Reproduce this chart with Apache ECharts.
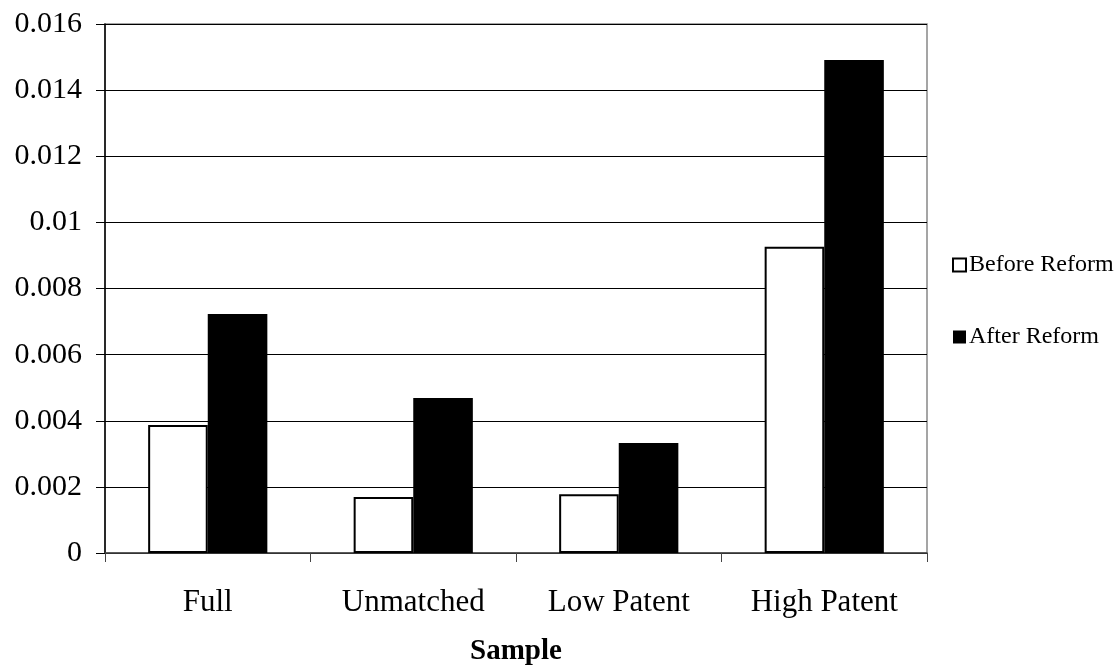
<!DOCTYPE html>
<html><head><meta charset="utf-8">
<script src="https://cdn.jsdelivr.net/npm/echarts@6/dist/echarts.min.js"></script>
<style>html,body{margin:0;padding:0;background:#fff}#c{width:1119px;height:668px}</style>
</head><body><div id="c"></div>
<script>
const categories = ['Full', 'Unmatched', 'Low Patent', 'High Patent'];
const beforeReform = [0.00387, 0.00169, 0.00178, 0.00926];
const afterReform = [0.00723, 0.00469, 0.00333, 0.01491];
const yTicks = [0, 0.002, 0.004, 0.006, 0.008, 0.01, 0.012, 0.014, 0.016];

const chart = echarts.init(document.getElementById('c'));
const font = 'Liberation Serif, Times New Roman, serif';
chart.setOption({
  animation: false,
  textStyle: { fontFamily: font },
  grid: { left: 105, right: 192, top: 24, bottom: 115, outerBoundsMode: 'none', containLabel: false,
    show: true, borderColor: '#888', borderWidth: 1.5, backgroundColor: 'transparent' },
  legend: {
    orient: 'vertical', left: 947, top: 248, itemGap: 48, itemWidth: 13, itemHeight: 13,
    icon: 'rect',
    textStyle: { fontFamily: font, fontSize: 24, color: '#000', padding: [0,0,0,-2] },
    data: [
      { name: 'Before Reform', itemStyle: { color: '#fff', borderColor: '#000', borderWidth: 2 } },
      { name: 'After Reform', itemStyle: { color: '#000' } }
    ]
  },
  xAxis: {
    type: 'category', data: categories,
    name: 'Sample', nameLocation: 'middle', nameGap: 84,
    nameTextStyle: { fontFamily: font, fontSize: 29, fontWeight: 'bold', color: '#000' },
    axisLine: { lineStyle: { color: '#444', width: 1.5 } },
    axisTick: { show: true, length: 9, lineStyle: { color: '#444' } },
    axisLabel: { fontFamily: font, fontSize: 31, color: '#000', margin: 34 }
  },
  yAxis: {
    type: 'value', min: 0, max: 0.016, interval: 0.002,
    axisLine: { show: true, lineStyle: { color: '#000', width: 1.5 } },
    axisTick: { show: true, length: 9, lineStyle: { color: '#000' } },
    axisLabel: { fontFamily: font, fontSize: 30, color: '#000', margin: 23,
      formatter: v => { const t = yTicks.find(x => Math.abs(x - v) < 1e-9); return t === undefined ? '' : String(t); } },
    splitLine: { show: true, lineStyle: { color: '#000', width: 1 } }
  },
  series: [
    { name: 'Before Reform', type: 'bar', data: beforeReform, barGap: '0%', barCategoryGap: '42%',
      itemStyle: { color: '#fff', borderColor: '#000', borderWidth: 2 } },
    { name: 'After Reform', type: 'bar', data: afterReform,
      itemStyle: { color: '#000', borderColor: '#000', borderWidth: 0 } }
  ]
});
</script></body></html>
